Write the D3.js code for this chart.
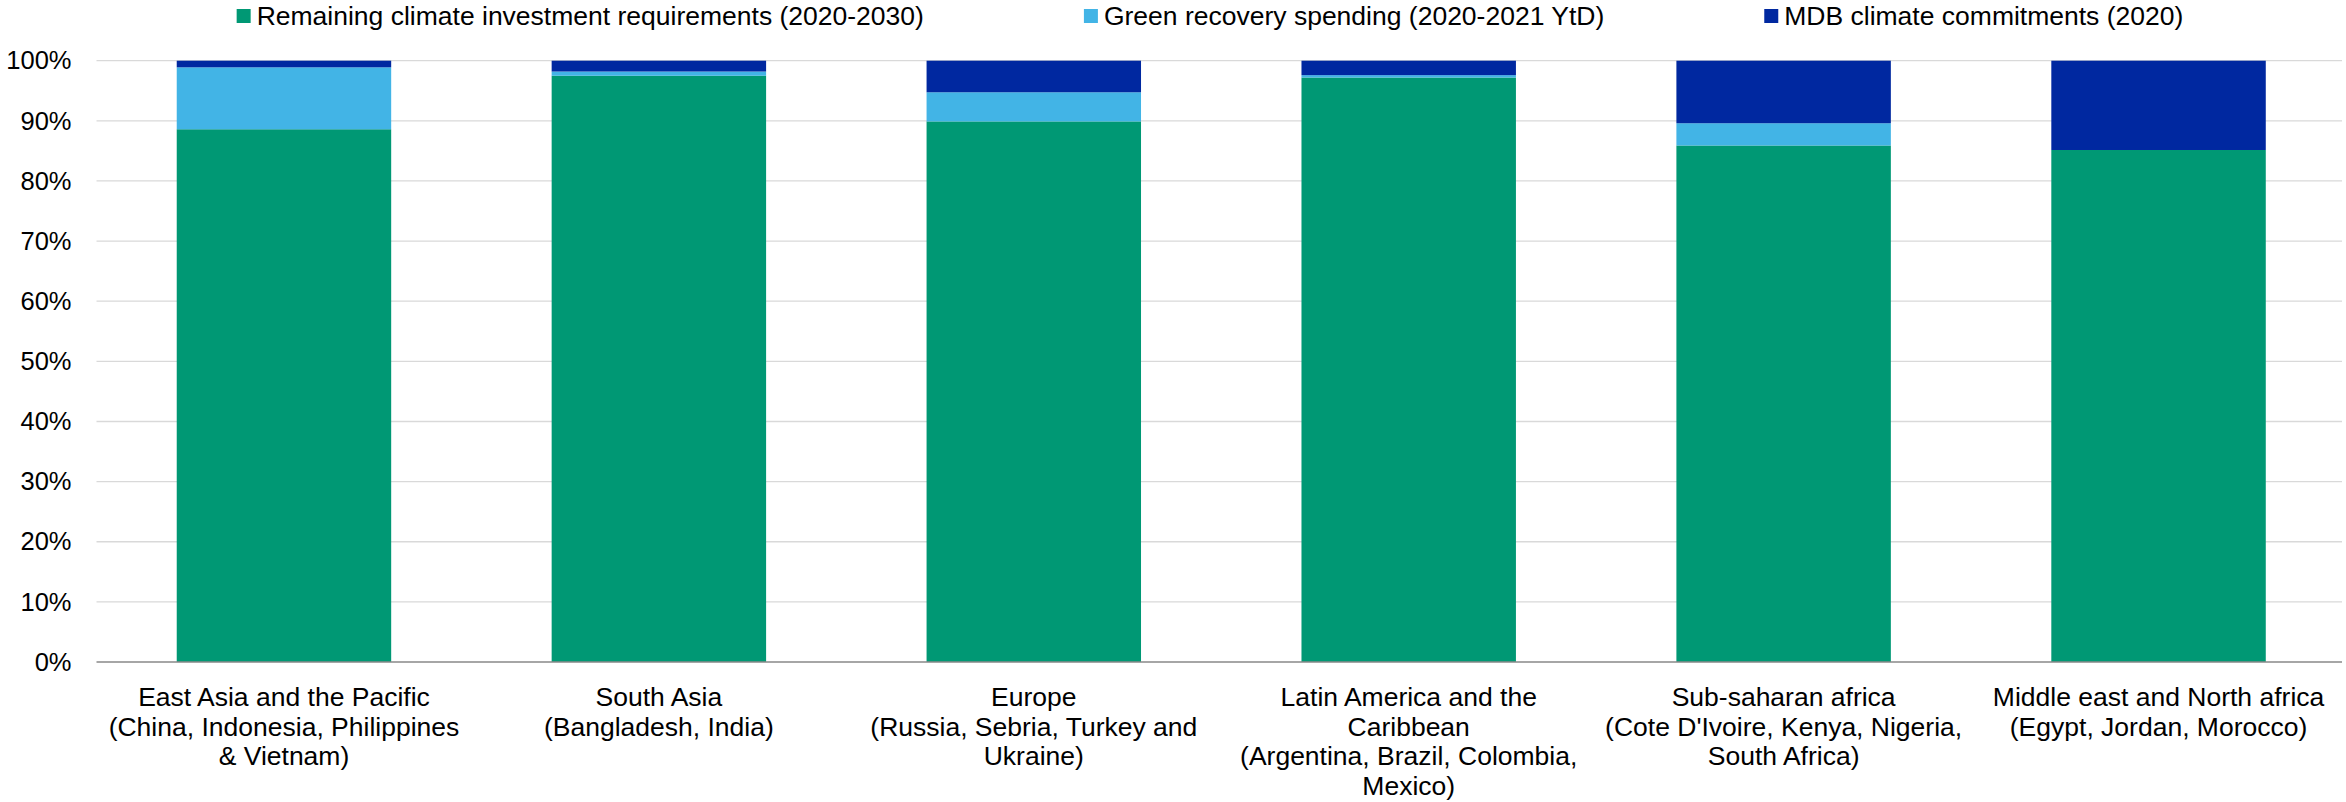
<!DOCTYPE html>
<html>
<head>
<meta charset="utf-8">
<script src="https://cdn.jsdelivr.net/npm/d3@7"></script>
<style>
  body { margin: 0; background: #fff; }
  text { font-family: Arial, "Liberation Sans", sans-serif; fill: #000; }
</style>
</head>
<body>
<div id="chart"></div>
<script>
var regions = [
  ['East Asia and the Pacific', '(China, Indonesia, Philippines', '& Vietnam)'],
  ['South Asia', '(Bangladesh, India)'],
  ['Europe', '(Russia, Sebria, Turkey and', 'Ukraine)'],
  ['Latin America and the', 'Caribbean', '(Argentina, Brazil, Colombia,', 'Mexico)'],
  ['Sub-saharan africa', '(Cote D\'Ivoire, Kenya, Nigeria,', 'South Africa)'],
  ['Middle east and North africa', '(Egypt, Jordan, Morocco)']
]
var seriesNames = ['Remaining climate investment requirements (2020-2030)', 'Green recovery spending (2020-2021 YtD)', 'MDB climate commitments (2020)']
var remaining = [88.6, 97.5, 89.9, 97.2, 85.9, 85.15]
var greenRecovery = [10.3, 0.7, 4.85, 0.4, 3.7, 0]
var mdb = [1.1, 1.8, 5.25, 2.4, 10.4, 14.85]
var ticks = [0, 10, 20, 30, 40, 50, 60, 70, 80, 90, 100]

var color = ['#009874', '#42B4E6', '#0028A0']

var width = 2346
var height = 802
var margin = {top: 60.7, right: 0, bottom: 140, left: 96.5}

var svg = d3.select('#chart')
  .append('svg')
    .attr('width', width)
    .attr('height', height)

var x = d3.scaleBand()
  .domain(d3.range(regions.length))
  .range([margin.left, width - margin.right])
  .paddingInner(0.428)
  .paddingOuter(0.214)

var y = d3.scaleLinear()
  .domain([0, 100])
  .range([662, margin.top])

var table = regions.map(function(r, i) {
  return {i: i, s0: remaining[i], s1: greenRecovery[i], s2: mdb[i]}
})
var stack = d3.stack().keys(['s0', 's1', 's2'])(table)

// gridlines
svg.append('g')
  .selectAll('line')
  .data(ticks.filter(function(t) { return t > 0 }))
  .enter().append('line')
    .attr('x1', margin.left)
    .attr('x2', width - margin.right - 4)
    .attr('y1', function(d) { return y(d) })
    .attr('y2', function(d) { return y(d) })
    .attr('stroke', '#d9d9d9')
    .attr('stroke-width', 1.3)

// bars
svg.append('g')
  .selectAll('g')
  .data(stack)
  .enter().append('g')
    .attr('fill', function(d, i) { return color[i] })
  .selectAll('rect')
  .data(function(d) { return d })
  .enter().append('rect')
    .attr('x', function(d) { return x(d.data.i) })
    .attr('width', x.bandwidth())
    .attr('y', function(d) { return y(d[1]) })
    .attr('height', function(d) { return y(d[0]) - y(d[1]) })

// y axis labels
var yAxis = d3.axisLeft(y)
  .tickValues(ticks)
  .tickFormat(function(d) { return d + '%' })
  .tickSize(0)
  .tickPadding(25)
svg.append('g')
  .attr('transform', 'translate(' + margin.left + ',0)')
  .call(yAxis)
  .call(function(g) { g.select('.domain').remove() })
  .selectAll('text')
    .style('font-size', '25.5px')
    .style('font-family', 'Arial, "Liberation Sans", sans-serif')
    .attr('fill', '#000')

// x axis line
svg.append('line')
  .attr('x1', margin.left)
  .attr('x2', width - margin.right - 4)
  .attr('y1', y(0))
  .attr('y2', y(0))
  .attr('stroke', '#898989')
  .attr('stroke-width', 1.5)

// category labels
var cat = svg.append('g')
  .selectAll('text')
  .data(regions)
  .enter().append('text')
    .attr('text-anchor', 'middle')
    .style('font-size', '26.5px')
    .attr('transform', function(d, i) { return 'translate(' + (x(i) + x.bandwidth() / 2) + ',706)' })
cat.selectAll('tspan')
  .data(function(d) { return d })
  .enter().append('tspan')
    .attr('x', 0)
    .attr('y', function(d, i) { return i * 29.5 })
    .text(function(d) { return d })

// legend
var legend = svg.append('g')
var items = legend.selectAll('g')
  .data(seriesNames)
  .enter().append('g')
items.append('rect')
  .attr('width', 14)
  .attr('height', 14)
  .attr('y', 9)
  .attr('fill', function(d, i) { return color[i] })
items.append('text')
  .attr('x', 20)
  .attr('y', 16)
  .attr('dy', '0.35em')
  .style('font-size', '26.5px')
  .text(function(d) { return d })
var pos = 0
items.each(function() {
  var w = this.getBBox().width
  d3.select(this).attr('transform', 'translate(' + pos + ',0)')
  pos += w + 160
})
var total = pos - 160
legend.attr('transform', 'translate(' + (1210 - total / 2) + ',0)')
</script>
</body>
</html>
